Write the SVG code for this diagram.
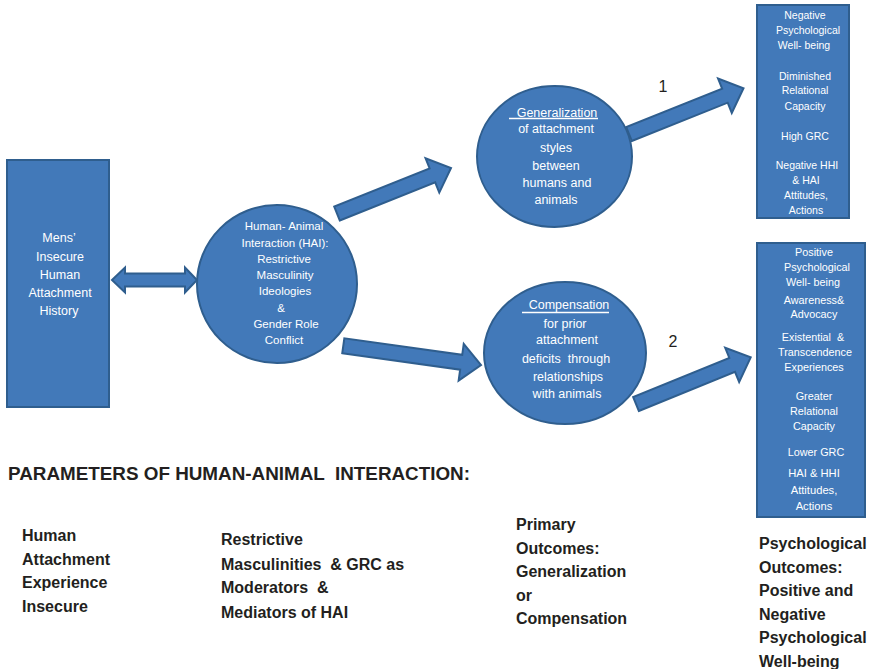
<svg xmlns="http://www.w3.org/2000/svg" width="870" height="669" viewBox="0 0 870 669">
<style>
text{white-space:pre}
.shape{fill:#4279b9;stroke:#2f5e8e;stroke-width:2;stroke-linejoin:miter}
.w{font-family:"Liberation Sans",Arial,sans-serif;fill:#ffffff;text-anchor:middle}
.ul{stroke:#ffffff;stroke-width:1.5}
.b{font-family:"Liberation Sans",Arial,sans-serif;fill:#231f20;font-weight:bold;font-size:16px}
.n{font-family:"Liberation Sans",Arial,sans-serif;fill:#231f20;font-size:16px;text-anchor:middle}
</style>
<rect width="870" height="669" fill="#ffffff"/>
<g id="connectors">
<polygon class="shape" points="112,280 125,267.5 125,273.5 185,273.5 185,267.5 197,280 185,292.5 185,286.5 125,286.5 125,292.5"/>
<polygon class="shape" points="339.78,220.47 435.2,182.38 439.28,192.59 451,168 425.56,158.23 429.64,168.44 334.22,206.53"/>
<polygon class="shape" points="342.26,353.23 460.15,369.67 458.64,380.56 481,365 463.74,343.92 462.23,354.81 344.34,338.37"/>
<polygon class="shape" points="631.78,140.97 727.7,102.68 731.78,112.89 743.5,88.3 718.06,78.53 722.14,88.74 626.22,127.03"/>
<polygon class="shape" points="638.83,410.95 735.01,371.79 739.16,381.97 750.7,357.3 725.2,347.71 729.35,357.89 633.17,397.05"/>
<text class="n" x="663" y="92">1</text>
<text class="n" x="673" y="347">2</text>
</g>
<g id="history">
<rect class="shape" x="7" y="160" width="102" height="247"/>
<g class="w" font-size="12.5px">
<text x="59" y="242.4">Mens’</text>
<text x="60" y="261">Insecure</text>
<text x="60" y="278.7">Human</text>
<text x="60" y="297">Attachment</text>
<text x="59" y="315.4">History</text>
</g>
</g>
<g id="hai">
<ellipse class="shape" cx="277" cy="284" rx="80" ry="79"/>
<g class="w" font-size="11.5px">
<text x="284" y="230">Human- Animal</text>
<text x="285" y="246.7">Interaction (HAI):</text>
<text x="284" y="263.3">Restrictive</text>
<text x="285" y="279">Masculinity</text>
<text x="285" y="294.7">Ideologies</text>
<text x="281" y="312.3">&amp;</text>
<text x="286" y="328.3">Gender Role</text>
<text x="284" y="344">Conflict</text>
</g>
</g>
<g id="generalization">
<ellipse class="shape" cx="554.5" cy="156.5" rx="77.5" ry="70.5"/>
<g class="w" font-size="12.5px">
<text x="557" y="116.7">Generalization</text>
<text x="556" y="133.4">of attachment</text>
<text x="556" y="152">styles</text>
<text x="556" y="170.4">between</text>
<text x="557" y="187">humans and</text>
<text x="556" y="204.4">animals</text>
</g>
<line class="ul" x1="509" y1="118.5" x2="598" y2="118.5"/>
</g>
<g id="compensation">
<ellipse class="shape" cx="565" cy="353" rx="81" ry="71"/>
<g class="w" font-size="12.5px">
<text x="569" y="309.4">Compensation</text>
<text x="565" y="327.7">for prior</text>
<text x="567" y="344.4">attachment</text>
<text x="566" y="363.4">deficits  through</text>
<text x="568" y="381">relationships</text>
<text x="567" y="398.4">with animals</text>
</g>
<line class="ul" x1="522" y1="312.5" x2="609" y2="312.5"/>
</g>
<g id="negative">
<rect class="shape" x="757" y="5" width="92" height="213"/>
<g class="w" font-size="10.5px">
<text x="805" y="18.8">Negative</text>
<text x="808" y="33.8">Psychological</text>
<text x="804" y="48.8">Well- being</text>
<text x="805" y="79.8">Diminished</text>
<text x="805" y="93.8">Relational</text>
<text x="805" y="109.8">Capacity</text>
<text x="805" y="139.8">High GRC</text>
<text x="807" y="168.8">Negative HHI</text>
<text x="806" y="183.8">&amp; HAI</text>
<text x="806" y="198.8">Attitudes,</text>
<text x="806" y="213.8">Actions</text>
</g>
</g>
<g id="positive">
<rect class="shape" x="757" y="243" width="108" height="274"/>
<g class="w" font-size="10.8px">
<text x="814" y="255.8">Positive</text>
<text x="817" y="270.5">Psychological</text>
<text x="813" y="285.5">Well- being</text>
<text x="814" y="303.8">Awareness&amp;</text>
<text x="814" y="318.1">Advocacy</text>
<text x="813" y="340.5">Existential  &amp;</text>
<text x="815" y="355.5">Transcendence</text>
<text x="814" y="370.5">Experiences</text>
<text x="814" y="399.5">Greater</text>
<text x="814" y="414.5">Relational</text>
<text x="814" y="429.5">Capacity</text>
<text x="816" y="455.5">Lower GRC</text>
<text x="814" y="477.3" font-size="11.2px">HAI &amp; HHI</text>
<text x="814" y="494" font-size="11.2px">Attitudes,</text>
<text x="814" y="509.7" font-size="11.2px">Actions</text>
</g>
</g>
<g id="parameters">
<text class="b" x="8" y="480" style="font-size:18.85px">PARAMETERS OF HUMAN-ANIMAL  INTERACTION:</text>
<text class="b" x="22" y="541">Human</text>
<text class="b" x="22" y="565">Attachment</text>
<text class="b" x="22" y="588">Experience</text>
<text class="b" x="22" y="612">Insecure</text>
<text class="b" x="221" y="545">Restrictive</text>
<text class="b" x="221" y="570">Masculinities  &amp; GRC as</text>
<text class="b" x="221" y="593">Moderators  &amp;</text>
<text class="b" x="221" y="618">Mediators of HAI</text>
<text class="b" x="516" y="530">Primary</text>
<text class="b" x="516" y="553.5">Outcomes:</text>
<text class="b" x="516" y="577">Generalization</text>
<text class="b" x="516" y="600.5">or</text>
<text class="b" x="516" y="624">Compensation</text>
<text class="b" x="759" y="549">Psychological</text>
<text class="b" x="759" y="573">Outcomes:</text>
<text class="b" x="759" y="596">Positive and</text>
<text class="b" x="759" y="620">Negative</text>
<text class="b" x="759" y="643">Psychological</text>
<text class="b" x="759" y="667">Well-being</text>
</g>
</svg>
